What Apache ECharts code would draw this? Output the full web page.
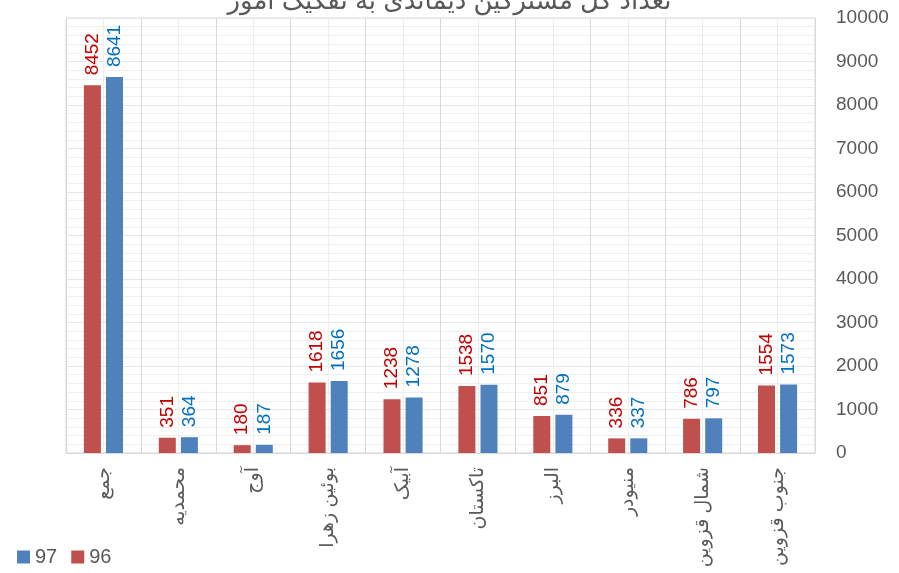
<!DOCTYPE html>
<html>
<head>
<meta charset="utf-8">
<script src="https://cdn.jsdelivr.net/npm/echarts@6/dist/echarts.min.js"></script>
<style>
html, body { margin: 0; padding: 0; background: #fff; }
#container { width: 899px; height: 573px; }
</style>
</head>
<body>
<div id="container"></div>
<script>
var titleText = 'تعداد کل مشترکین دیماندی به تفکیک امور';
var categories = ['جمع', 'محمدیه', 'آوج', 'بوئین زهرا', 'آبیک', 'تاکستان', 'البرز', 'منیودر', 'شمال قزوین', 'جنوب قزوین'];
var values96 = [8452, 351, 180, 1618, 1238, 1538, 851, 336, 786, 1554];
var values97 = [8641, 364, 187, 1656, 1278, 1570, 879, 337, 797, 1573];

var font = "'Liberation Sans', 'DejaVu Sans', sans-serif";
var dom = document.getElementById('container');
var myChart = echarts.init(dom);

var option = {
    animation: false,
    textStyle: { fontFamily: font },
    title: {
        text: titleText,
        left: 'center',
        top: -16,
        textStyle: { fontSize: 26, fontWeight: 'normal', color: '#595959', fontFamily: font }
    },
    legend: {
        data: ['97', '96'],
        left: 12,
        bottom: 1,
        itemWidth: 13,
        itemHeight: 13,
        itemGap: 14,
        icon: 'rect',
        textStyle: { fontSize: 20, color: '#595959', fontFamily: font }
    },
    grid: {
        left: 66,
        right: 84,
        top: 18,
        bottom: 120,
        show: true,
        borderColor: '#d9d9d9',
        borderWidth: 1
    },
    xAxis: [
        {
            type: 'category',
            data: categories,
            axisLine: { lineStyle: { color: '#d9d9d9', width: 1 } },
            axisTick: { show: false },
            splitLine: { show: false },
            axisLabel: {
                rotate: 90,
                interval: 0,
                margin: 14,
                fontSize: 19,
                color: '#595959',
                fontFamily: font
            }
        },
        {
            // only used to draw the vertical grid lines
            type: 'value',
            position: 'top',
            min: 0,
            max: 10,
            interval: 1,
            axisLine: { show: false },
            axisTick: { show: false },
            axisLabel: { show: false },
            splitLine: { show: true, lineStyle: { color: '#d9d9d9' } },
            minorTick: { show: false, splitNumber: 2 },
            minorSplitLine: { show: true, lineStyle: { color: '#eeeeee' } }
        }
    ],
    yAxis: {
        type: 'value',
        position: 'right',
        min: 0,
        max: 10000,
        interval: 1000,
        axisLine: { show: false },
        axisTick: { show: false },
        axisLabel: {
            fontSize: 19,
            color: '#595959',
            margin: 21,
            fontFamily: font,
            formatter: function (v) { return String(v); }
        },
        splitLine: { show: true, lineStyle: { color: '#e6e6e6' } },
        minorTick: { show: false, splitNumber: 5 },
        minorSplitLine: { show: true, lineStyle: { color: '#efefef' } }
    },
    series: [
        {
            name: '96',
            type: 'bar',
            xAxisIndex: 0,
            barWidth: 17,
            barGap: '30%',
            itemStyle: { color: '#c0504d' },
            label: {
                show: true,
                position: 'top',
                rotate: 90,
                align: 'left',
                verticalAlign: 'middle',
                distance: 10,
                fontSize: 19,
                color: '#c00000',
                fontFamily: font
            },
            data: values96
        },
        {
            name: '97',
            type: 'bar',
            xAxisIndex: 0,
            barWidth: 17,
            itemStyle: { color: '#4f81bd' },
            label: {
                show: true,
                position: 'top',
                rotate: 90,
                align: 'left',
                verticalAlign: 'middle',
                distance: 10,
                fontSize: 19,
                color: '#0070c0',
                fontFamily: font
            },
            data: values97
        }
    ]
};

if (option && typeof option === "object") {
    myChart.setOption(option, true);
}
</script>
</body>
</html>
